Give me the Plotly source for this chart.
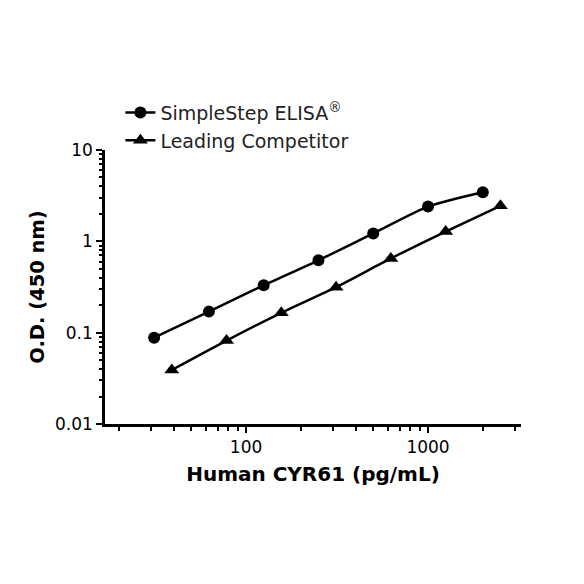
import plotly.graph_objects as go

# standard curves
conc_simplestep = [31.25, 62.5, 125, 250, 500, 1000, 2000]
od_simplestep = [0.088, 0.17, 0.33, 0.62, 1.22, 2.4, 3.45]

conc_competitor = [39.06, 78.13, 156.25, 312.5, 625, 1250, 2500]
od_competitor = [0.039, 0.082, 0.165, 0.315, 0.65, 1.28, 2.45]

x_major = [100, 1000]
x_major_text = ["100", "1000"]
x_minor = [20, 30, 40, 50, 60, 70, 80, 90, 200, 300, 400, 500, 600, 700, 800, 900, 2000, 3000]

y_major = [0.01, 0.1, 1, 10]
y_major_text = ["0.01", "0.1", "1", "10"]
y_minor = [m * d for d in [0.01, 0.1, 1] for m in range(2, 10)]

FONT = "DejaVu Sans"

fig = go.Figure()
fig.add_trace(go.Scatter(
    x=conc_simplestep, y=od_simplestep,
    mode="lines+markers",
    name="SimpleStep ELISA<sup>®</sup>",
    line=dict(color="black", width=2.5, shape="spline", smoothing=0.7),
    marker=dict(symbol="circle", size=12, color="black"),
))
fig.add_trace(go.Scatter(
    x=conc_competitor, y=od_competitor,
    mode="lines+markers",
    name="Leading Competitor",
    line=dict(color="black", width=2.5, shape="spline", smoothing=0.7),
    marker=dict(symbol="triangle-up", size=13, color="black"),
))

# page body adds 8px offset, margins account for it
fig.update_layout(
    width=584, height=584,
    paper_bgcolor="white", plot_bgcolor="white",
    margin=dict(l=97, r=71, t=142, b=168),
    font=dict(family=FONT, color="black"),
    showlegend=True,
    legend=dict(
        x=0.037, y=0.965, xanchor="left", yanchor="bottom",
        font=dict(family=FONT, size=19, color="#222222"),
        bgcolor="rgba(0,0,0,0)",
    ),
    xaxis=dict(
        type="log",
        range=[1.225, 3.511],
        showgrid=False, zeroline=False,
        showline=True, linecolor="black", linewidth=2.5,
        ticks="outside", ticklen=6, tickwidth=2, tickcolor="black",
        tickvals=x_major, ticktext=x_major_text,
        tickfont=dict(family=FONT, size=17, color="black"),
        minor=dict(tickvals=x_minor, ticks="outside", ticklen=4, tickwidth=2, tickcolor="black"),
        title=dict(text="<b>Human CYR61 (pg/mL)</b>", font=dict(family=FONT, size=20, color="black"), standoff=11),
    ),
    yaxis=dict(
        type="log",
        range=[-2, 1],
        showgrid=False, zeroline=False,
        showline=True, linecolor="black", linewidth=2.5,
        ticks="outside", ticklen=6, tickwidth=2, tickcolor="black",
        tickvals=y_major, ticktext=y_major_text,
        tickfont=dict(family=FONT, size=17, color="black"),
        minor=dict(tickvals=y_minor, ticks="outside", ticklen=3, tickwidth=2, tickcolor="black"),
        title=dict(text="<b>O.D. (450 nm)</b>", font=dict(family=FONT, size=19.5, color="black"), standoff=6),
    ),
)

fig.write_html("out.html")
